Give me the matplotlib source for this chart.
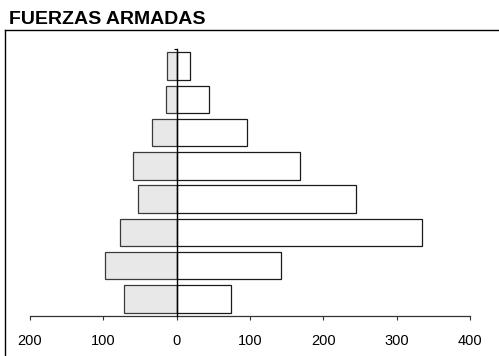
import numpy as np
import matplotlib
matplotlib.use('Agg')
import matplotlib.pyplot as plt
from matplotlib.lines import Line2D

plt.rcParams['font.family'] = ['Liberation Sans', 'DejaVu Sans']

title = "FUERZAS ARMADAS"
# bars listed from bottom to top
left_vals = [72, 98, 77, 53, 60, 34, 15, 13]
right_vals = [74, 142, 334, 244, 168, 96, 44, 18]
xticks = [-200, -100, 0, 100, 200, 300, 400]
xtick_labels = ["200", "100", "0", "100", "200", "300", "400"]

W, H = 499, 356
fig = plt.figure(figsize=(W / 100, H / 100), dpi=100)

# axes placed in pixel terms
x0, x1 = 30, 470
y_bot, y_top = 315.7, 40
ax = fig.add_axes([x0 / W, 1 - y_bot / H, (x1 - x0) / W, (y_bot - y_top) / H])

pos = np.arange(len(left_vals))
ax.barh(pos, -np.array(left_vals), height=0.83, color='#e8e8e8',
        edgecolor='#3a3a3a', linewidth=0.9)
ax.barh(pos, right_vals, height=0.83, color='white',
        edgecolor='#1a1a1a', linewidth=0.9)

ax.set_xlim(-200, 400)
ax.set_ylim(-0.51, 7.79)

for s in ['top', 'right']:
    ax.spines[s].set_visible(False)
ax.spines['left'].set_position(('data', 0))
ax.spines['left'].set_bounds(-0.51, 7.51)
ax.spines['left'].set_linewidth(1.0)
ax.spines['left'].set_zorder(5)
ax.spines['bottom'].set_linewidth(0.9)
ax.spines['bottom'].set_color('#333333')

ax.set_yticks([7.51])
ax.set_yticklabels([""])
ax.tick_params(axis='y', length=2.2, width=0.8)

ax.set_xticks(xticks)
ax.set_xticklabels(xtick_labels)
ax.tick_params(axis='x', length=3.1, width=0.8, color='#333333',
               labelsize=10.5, pad=10)

fig.text(9 / W, 1 - 19 / H, title, fontsize=14, fontweight='bold',
         ha='left', va='center')

# outer frame (left and top edges visible)
fig.add_artist(Line2D([4.5 / W, 4.5 / W], [1 - 30 / H, 0], color='black', linewidth=1.0))
fig.add_artist(Line2D([4.5 / W, 1], [1 - 30 / H, 1 - 30 / H], color='black', linewidth=1.0))

fig.savefig("out.png", dpi=100)
